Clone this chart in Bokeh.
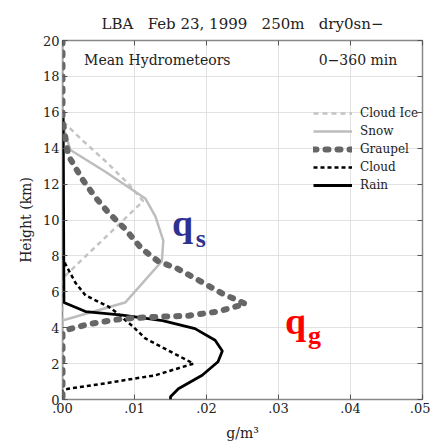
from bokeh.plotting import figure
from bokeh.models import Legend, LegendItem, Label, LinearAxis, FixedTicker, Range1d
from bokeh.embed import file_html
from bokeh.resources import INLINE

# ---- data (g/m^3 vs height km) ----
ice_km = [20, 16.0, 15.4, 14.5, 13.3, 12.0, 11.05, 6.9, 6.5, 0]
ice_val = [0, 0, 0.0003, 0.0026, 0.0059, 0.0092, 0.0112, 0.0004, 0, 0]

snow_km = [20, 15.6, 15.05, 13.9, 12.7, 11.2, 10.2, 8.85, 7.7, 5.4, 4.4, 0]
snow_val = [0, 0, 0.0002, 0.0011, 0.0059, 0.0115, 0.0129, 0.0140, 0.0138, 0.0087, 0, 0]

grau_km = [20, 15.6, 13.6, 12.3, 11.3, 10.4, 9.5, 8.4, 7.7, 7.3, 6.6, 5.9, 5.33,
           4.9, 4.67, 4.6, 4.5, 4.2, 3.9, 3.7, 0]
grau_val = [0, 0, 0.0008, 0.0027, 0.0045, 0.0064, 0.0087, 0.0110, 0.0133, 0.0159,
            0.0191, 0.0222, 0.0254, 0.0216, 0.0175, 0.0129, 0.0083, 0.0036, 0.0008, 0, 0]

cloud_km = [8.0, 7.55, 6.5, 5.8, 5.17, 4.9, 4.1, 3.4, 2.0, 1.35, 0.9, 0.6, 0.5, 0]
cloud_val = [0, 0.0004, 0.0018, 0.0032, 0.0064, 0.0073, 0.0097, 0.0115, 0.0182,
             0.0129, 0.0059, 0.0008, 0, 0]

rain_km = [15.7, 5.4, 4.9, 4.7, 4.4, 3.95, 3.3, 2.7, 2.1, 1.35, 0.6, 0.15, 0]
rain_val = [0.0001, 0.0002, 0.0032, 0.0083, 0.0139, 0.0184, 0.0212, 0.0222, 0.0216,
            0.0194, 0.0161, 0.0150, 0.0150]

x_ticks = [0, 0.01, 0.02, 0.03, 0.04, 0.05]
x_tick_labels = [".00", ".01", ".02", ".03", ".04", ".05"]
y_ticks = [0, 2, 4, 6, 8, 10, 12, 14, 16, 18, 20]

title_text = "LBA\u00a0\u00a0\u00a0Feb 23, 1999\u00a0\u00a0\u00a0250m\u00a0\u00a0\u00a0dry0sn\u2212"
series_names = ["Cloud Ice", "Snow", "Graupel", "Cloud", "Rain"]

FONT = "DejaVu Serif"

p = figure(width=430, height=443, x_range=Range1d(0, 0.05), y_range=Range1d(0, 20),
           output_backend="svg", toolbar_location=None,
           min_border_left=62, min_border_right=8, min_border_top=40, min_border_bottom=42,
           title=title_text)
p.title.align = "center"
p.title.text_font = FONT
p.title.text_font_style = "normal"
p.title.text_font_size = "15px"
p.title.text_color = "#222222"
p.title.standoff = 16

p.outline_line_color = "#888888"
p.outline_line_width = 1.5
p.background_fill_color = "white"
p.border_fill_color = "white"

for ax in (p.xaxis[0], p.yaxis[0]):
    ax.axis_line_color = None
    ax.major_tick_in = 5
    ax.major_tick_out = 0
    ax.minor_tick_line_color = None
    ax.major_tick_line_color = "#555555"
    ax.major_label_text_font = FONT
    ax.major_label_text_font_size = "13px"
    ax.major_label_text_color = "#222222"
    ax.axis_label_text_font = FONT
    ax.axis_label_text_font_style = "normal"
    ax.axis_label_text_font_size = "14px"
    ax.axis_label_text_color = "#222222"

p.xaxis.ticker = FixedTicker(ticks=x_ticks)
p.xaxis.major_label_overrides = {t: l for t, l in zip(x_ticks, x_tick_labels)}
p.xaxis.axis_label = "g/m\u00b3"
p.xaxis.major_label_standoff = 3
p.xaxis.axis_label_standoff = 9
p.yaxis.ticker = FixedTicker(ticks=y_ticks)
p.yaxis.axis_label = "Height (km)"
p.yaxis.major_label_standoff = 3
p.yaxis.axis_label_standoff = 6

right = LinearAxis(ticker=FixedTicker(ticks=y_ticks), axis_line_color=None,
                   major_tick_in=5, major_tick_out=0, minor_tick_line_color=None,
                   major_tick_line_color="#555555", major_label_text_font_size="0px",
                   major_label_standoff=0)
p.add_layout(right, "right")
top = LinearAxis(ticker=FixedTicker(ticks=x_ticks), axis_line_color=None,
                 major_tick_in=5, major_tick_out=0, minor_tick_line_color=None,
                 major_tick_line_color="#555555", major_label_text_font_size="0px",
                 major_label_standoff=0)
p.add_layout(top, "above")

p.xgrid.ticker = FixedTicker(ticks=x_ticks)
p.ygrid.ticker = FixedTicker(ticks=y_ticks)
p.xgrid.grid_line_color = "#e2e2e2"
p.ygrid.grid_line_color = "#e2e2e2"

r_ice = p.line(ice_val, ice_km, line_color="#c4c4c4", line_width=2.5, line_dash="5 4")
r_snow = p.line(snow_val, snow_km, line_color="#bdbdbd", line_width=2.5)
r_rain = p.line(rain_val, rain_km, line_color="black", line_width=2.8)
r_cloud = p.line(cloud_val, cloud_km, line_color="black", line_width=2.5, line_dash="4 3")
r_grau = p.line(grau_val, grau_km, line_color="#666666", line_width=6, line_dash="3 9",
                line_cap="round")

renderers = [r_ice, r_snow, r_grau, r_cloud, r_rain]
legend = Legend(items=[LegendItem(label=n, renderers=[r]) for n, r in zip(series_names, renderers)],
                location=(251, 207), orientation="vertical",
                border_line_color=None, background_fill_alpha=0,
                padding=0, margin=0, spacing=4, glyph_width=39, glyph_height=14,
                label_height=14, label_standoff=8,
                label_text_font=FONT, label_text_font_size="12px", label_text_color="#222222")
p.add_layout(legend)

p.add_layout(Label(x=0.003, y=18.89, text="Mean Hydrometeors", text_font=FONT,
                   text_font_size="14px", text_baseline="middle", text_color="#222222"))
p.add_layout(Label(x=0.0465, y=18.89, text="0\u2212360 min", text_font=FONT,
                   text_font_size="14px", text_baseline="middle", text_align="right",
                   text_color="#222222"))

# q_s and q_g annotations
p.add_layout(Label(x=0.0152, y=9.83, text="q", text_font="Liberation Serif",
                   text_font_style="bold", text_font_size="38px", text_color="#2e3192",
                   text_baseline="alphabetic"))
p.add_layout(Label(x=0.0185, y=8.95, text="s", text_font="Liberation Serif",
                   text_font_style="bold", text_font_size="26px", text_color="#2e3192",
                   text_baseline="alphabetic"))
p.add_layout(Label(x=0.0309, y=4.35, text="q", text_font="Liberation Serif",
                   text_font_style="bold", text_font_size="38px", text_color="#ff0000",
                   text_baseline="alphabetic"))
p.add_layout(Label(x=0.0341, y=3.55, text="g", text_font="Liberation Serif",
                   text_font_style="bold", text_font_size="26px", text_color="#ff0000",
                   text_baseline="alphabetic"))

open("out.html", "w").write(file_html(p, INLINE))
